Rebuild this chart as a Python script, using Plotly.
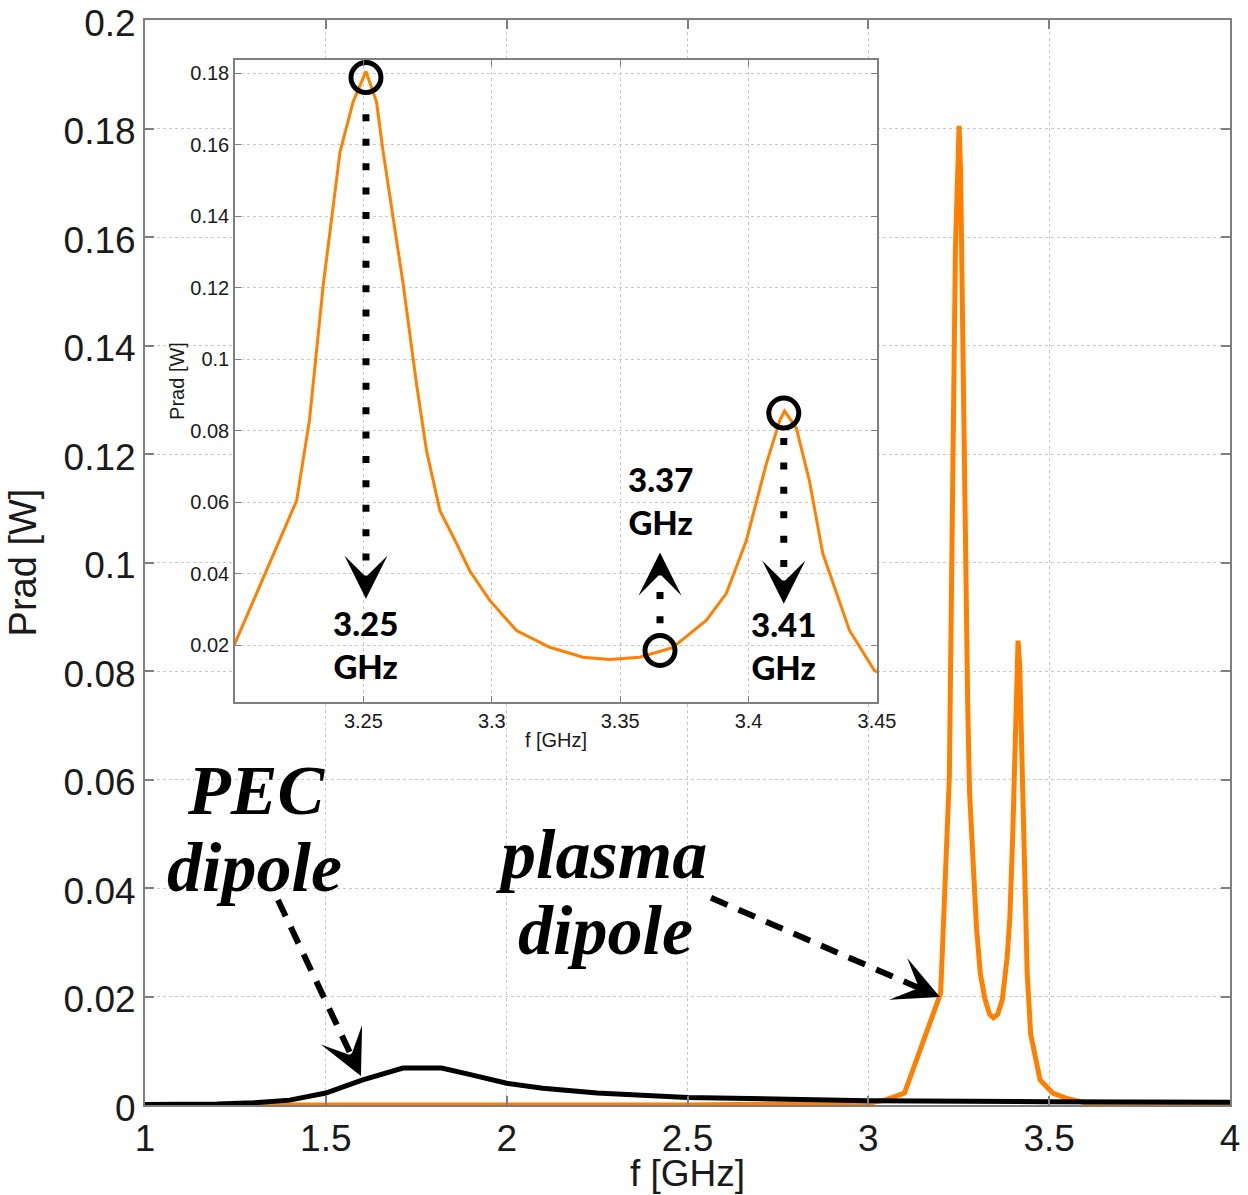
import plotly.graph_objects as go

# ---------------- data ----------------
pec_freq = [1.0, 1.1, 1.2, 1.3, 1.4, 1.5, 1.6, 1.713, 1.82, 1.9, 2.0, 2.1,
            2.25, 2.5, 2.75, 3.0, 3.5, 4.0]
pec_prad = [0.0001, 0.0001, 0.0002, 0.0004, 0.0009, 0.0022, 0.0046, 0.0068,
            0.0068, 0.0056, 0.0040, 0.0031, 0.0022, 0.0014, 0.0010, 0.0008,
            0.0006, 0.0005]

plasma_freq = [1.0, 1.5, 2.0, 2.5, 3.0, 3.05, 3.1, 3.2, 3.224, 3.229, 3.2344,
               3.2409, 3.246, 3.251, 3.2551, 3.2577, 3.2655, 3.2707, 3.2746,
               3.2798, 3.2863, 3.2914, 3.2992, 3.3096, 3.3226, 3.3355, 3.3459,
               3.3576, 3.3704, 3.3835, 3.3913, 3.3991, 3.4069, 3.4121, 3.414,
               3.4186, 3.4237, 3.4289, 3.4393, 3.449, 3.475, 3.51, 3.55, 3.6,
               3.7, 4.0]
plasma_prad = [0.0, 0.0, 0.0, 0.0, 0.0003, 0.001, 0.0022, 0.0206, 0.0605,
               0.083, 0.121, 0.158, 0.172, 0.1805, 0.172, 0.158, 0.121, 0.093,
               0.0744, 0.0577, 0.0485, 0.0409, 0.0326, 0.0242, 0.0195, 0.0167,
               0.0161, 0.0167, 0.0194, 0.027, 0.0345, 0.0493, 0.0708, 0.0828,
               0.0856, 0.0808, 0.066, 0.0457, 0.0242, 0.013, 0.0046, 0.0022,
               0.0012, 0.0004, 0.0001, 0.0]

# highlighted resonances in the inset
mark_freq = [3.251, 3.3655, 3.4137]
mark_prad = [0.1788, 0.0186, 0.0850]
mark_text = ["3.25<br>GHz", "3.37<br>GHz", "3.41<br>GHz"]
mark_label_y = [0.0203, 0.0605, 0.0200]
# dotted arrows: start y, end y (dotted part), tip y
dot_start = [0.1685, 0.0262, 0.0780]
dot_end = [0.0405, 0.0370, 0.0405]
dot_tip = [0.0331, 0.0460, 0.0317]

# curve labels (one entry per text line) with dashed arrows (main axes)
label_lines = ["PEC", "dipole", "plasma", "dipole"]
label_x = [1.307, 1.304, 2.261, 2.272]
label_y = [0.0580, 0.0437, 0.0461, 0.0322]
arrow_start_x = [1.3677, 2.565]
arrow_start_y = [0.0378, 0.0382]
arrow_tip_x = [1.597, 3.198]
arrow_tip_y = [0.00535, 0.0199]

main_x_title = "f [GHz]"
main_x_ticks = [1, 1.5, 2, 2.5, 3, 3.5, 4]
main_y_ticks = [0, 0.02, 0.04, 0.06, 0.08, 0.1, 0.12, 0.14, 0.16, 0.18, 0.2]
main_y_text = ["0", "0.02", "0.04", "0.06", "0.08", "0.1", "0.12", "0.14",
               "0.16", "0.18", "0.2"]
inset_x_ticks = [3.25, 3.3, 3.35, 3.4, 3.45]
inset_x_text = ["3.25", "3.3", "3.35", "3.4", "3.45"]
inset_y_ticks = [0.02, 0.04, 0.06, 0.08, 0.1, 0.12, 0.14, 0.16, 0.18]
inset_y_text = ["0.02", "0.04", "0.06", "0.08", "0.1", "0.12", "0.14", "0.16",
                "0.18"]

ORANGE = "#ff8000"
AXIS_GRAY = "#7f7f7f"
GRID_GRAY = "#c9c9c9"

# ---------------- figure ----------------
W, H = 1248, 1195
ML, MT, MR, MB = 145, 20, 18, 90
PW, PH = W - ML - MR, H - MT - MB
XR, YR = [1, 4], [0, 0.2]
X2R, Y2R = [3.2, 3.45], [0.0042, 0.1837]
x2dom = [(235 - ML) / PW, (877 - ML) / PW]
y2dom = [(MT + PH - 702) / PH, (MT + PH - 60) / PH]

fig = go.Figure()

fig.add_trace(go.Scatter(x=plasma_freq, y=plasma_prad, mode="lines",
                         line=dict(color=ORANGE, width=5), xaxis="x", yaxis="y",
                         name="plasma dipole", showlegend=False))
fig.add_trace(go.Scatter(x=pec_freq, y=pec_prad, mode="lines",
                         line=dict(color="black", width=5), xaxis="x", yaxis="y",
                         name="PEC dipole", showlegend=False))
fig.add_trace(go.Scatter(x=plasma_freq, y=plasma_prad, mode="lines",
                         line=dict(color=ORANGE, width=3), xaxis="x2", yaxis="y2",
                         showlegend=False))
fig.add_trace(go.Scatter(x=mark_freq, y=mark_prad, mode="markers",
                         marker=dict(symbol="circle-open", size=30, color="black",
                                     line=dict(width=5, color="black")),
                         xaxis="x2", yaxis="y2", showlegend=False))

axis_common = dict(showline=True, linecolor=AXIS_GRAY, mirror="ticks",
                   ticks="inside", tickcolor=AXIS_GRAY, showgrid=True,
                   gridcolor=GRID_GRAY, griddash="dot", gridwidth=1,
                   zeroline=False, automargin=False, ticklabeloverflow="allow")

fig.update_layout(
    width=W, height=H, autosize=False,
    margin=dict(l=ML, r=MR, t=MT, b=MB, autoexpand=False),
    paper_bgcolor="white", plot_bgcolor="white",
    font=dict(family="Liberation Sans, Arial, sans-serif", color="#1a1a1a"),
    xaxis=dict(range=XR, tickvals=main_x_ticks, ticklen=9, tickwidth=1.5,
               linewidth=2, tickfont=dict(size=37),
               domain=[0, 1], anchor="y", **axis_common),
    yaxis=dict(range=YR, tickvals=main_y_ticks, ticktext=main_y_text,
               ticklen=9, tickwidth=1.5, ticklabelshift=3,
               linewidth=2, tickfont=dict(size=37),
               title=dict(text="Prad [W]", font=dict(size=38)),
               domain=[0, 1], anchor="x", **axis_common),
    xaxis2=dict(range=X2R, tickvals=inset_x_ticks, ticktext=inset_x_text,
                ticklen=6, tickwidth=1, linewidth=1.5,
                tickfont=dict(size=20),
                title=dict(text="f [GHz]", font=dict(size=20), standoff=2),
                domain=x2dom, anchor="y2", **axis_common),
    yaxis2=dict(range=Y2R, tickvals=inset_y_ticks, ticktext=inset_y_text,
                ticklen=6, tickwidth=1,
                linewidth=1.5, tickfont=dict(size=20),
                title=dict(text="Prad [W]", font=dict(size=20), standoff=0),
                domain=y2dom, anchor="x2", **axis_common),
)

# px per data unit (for arrow-head orientation)
sx = PW / (XR[1] - XR[0])
sy = PH / (YR[1] - YR[0])

shapes = []
annotations = []

# main x-axis title (placed below the tick labels)
annotations.append(dict(text=main_x_title, xref="paper", yref="paper",
                        x=0.5, y=-(1173 - (MT + PH)) / PH, xanchor="center",
                        yanchor="middle", showarrow=False,
                        font=dict(size=37, color="#1a1a1a")))

for txt, tx, ty in zip(label_lines, label_x, label_y):
    annotations.append(dict(text=txt, x=tx, y=ty, xref="x", yref="y",
                            showarrow=False, xanchor="center", yanchor="middle",
                            font=dict(family="Liberation Serif, Times New Roman, serif",
                                      size=70, color="black", weight="bold",
                                      style="italic")))

for x0, y0, x1, y1 in zip(arrow_start_x, arrow_start_y, arrow_tip_x, arrow_tip_y):
    dxp = (x1 - x0) * sx
    dyp = -(y1 - y0) * sy
    L = (dxp ** 2 + dyp ** 2) ** 0.5
    ux, uy = dxp / L, dyp / L
    back = 18
    ex = x1 - ux * back / sx
    ey = y1 + uy * back / sy
    shapes.append(dict(type="line", xref="x", yref="y", x0=x0, y0=y0, x1=ex, y1=ey,
                       line=dict(color="black", width=6, dash="18px,12px"),
                       layer="above"))
    annotations.append(dict(text="", x=x1, y=y1, xref="x", yref="y",
                            ax=-ux * 24, ay=-uy * 24, axref="pixel", ayref="pixel",
                            showarrow=True, arrowhead=3, arrowsize=3.8, arrowwidth=2,
                            arrowcolor="black", font=dict(size=1)))

# inset dotted arrows and labels
for fx, ys, ye, yt, ly, txt in zip(mark_freq, dot_start, dot_end, dot_tip,
                                   mark_label_y, mark_text):
    shapes.append(dict(type="line", xref="x2", yref="y2", x0=fx, y0=ys, x1=fx, y1=ye,
                       line=dict(color="black", width=7, dash="7px,17.4px"),
                       layer="above"))
    direction = 1 if yt < ye else -1   # 1: pointing down
    annotations.append(dict(text="", x=fx, y=yt, xref="x2", yref="y2",
                            ax=0, ay=-24 * direction, axref="pixel", ayref="pixel",
                            showarrow=True, arrowhead=3, arrowsize=3.6, arrowwidth=2,
                            arrowcolor="black", font=dict(size=1)))
    annotations.append(dict(text=txt, x=fx, y=ly, xref="x2", yref="y2",
                            showarrow=False, xanchor="center", yanchor="middle",
                            font=dict(family="Lato, Open Sans, sans-serif", size=33,
                                      color="black", weight=900)))

fig.update_layout(shapes=shapes, annotations=annotations)

# drop the browser's default 8px page margin so the figure fills the window
fig.write_html("out.html",
               config={"displayModeBar": False},
               post_script="document.body.style.margin='0';"
                           "document.body.style.overflow='hidden';")
